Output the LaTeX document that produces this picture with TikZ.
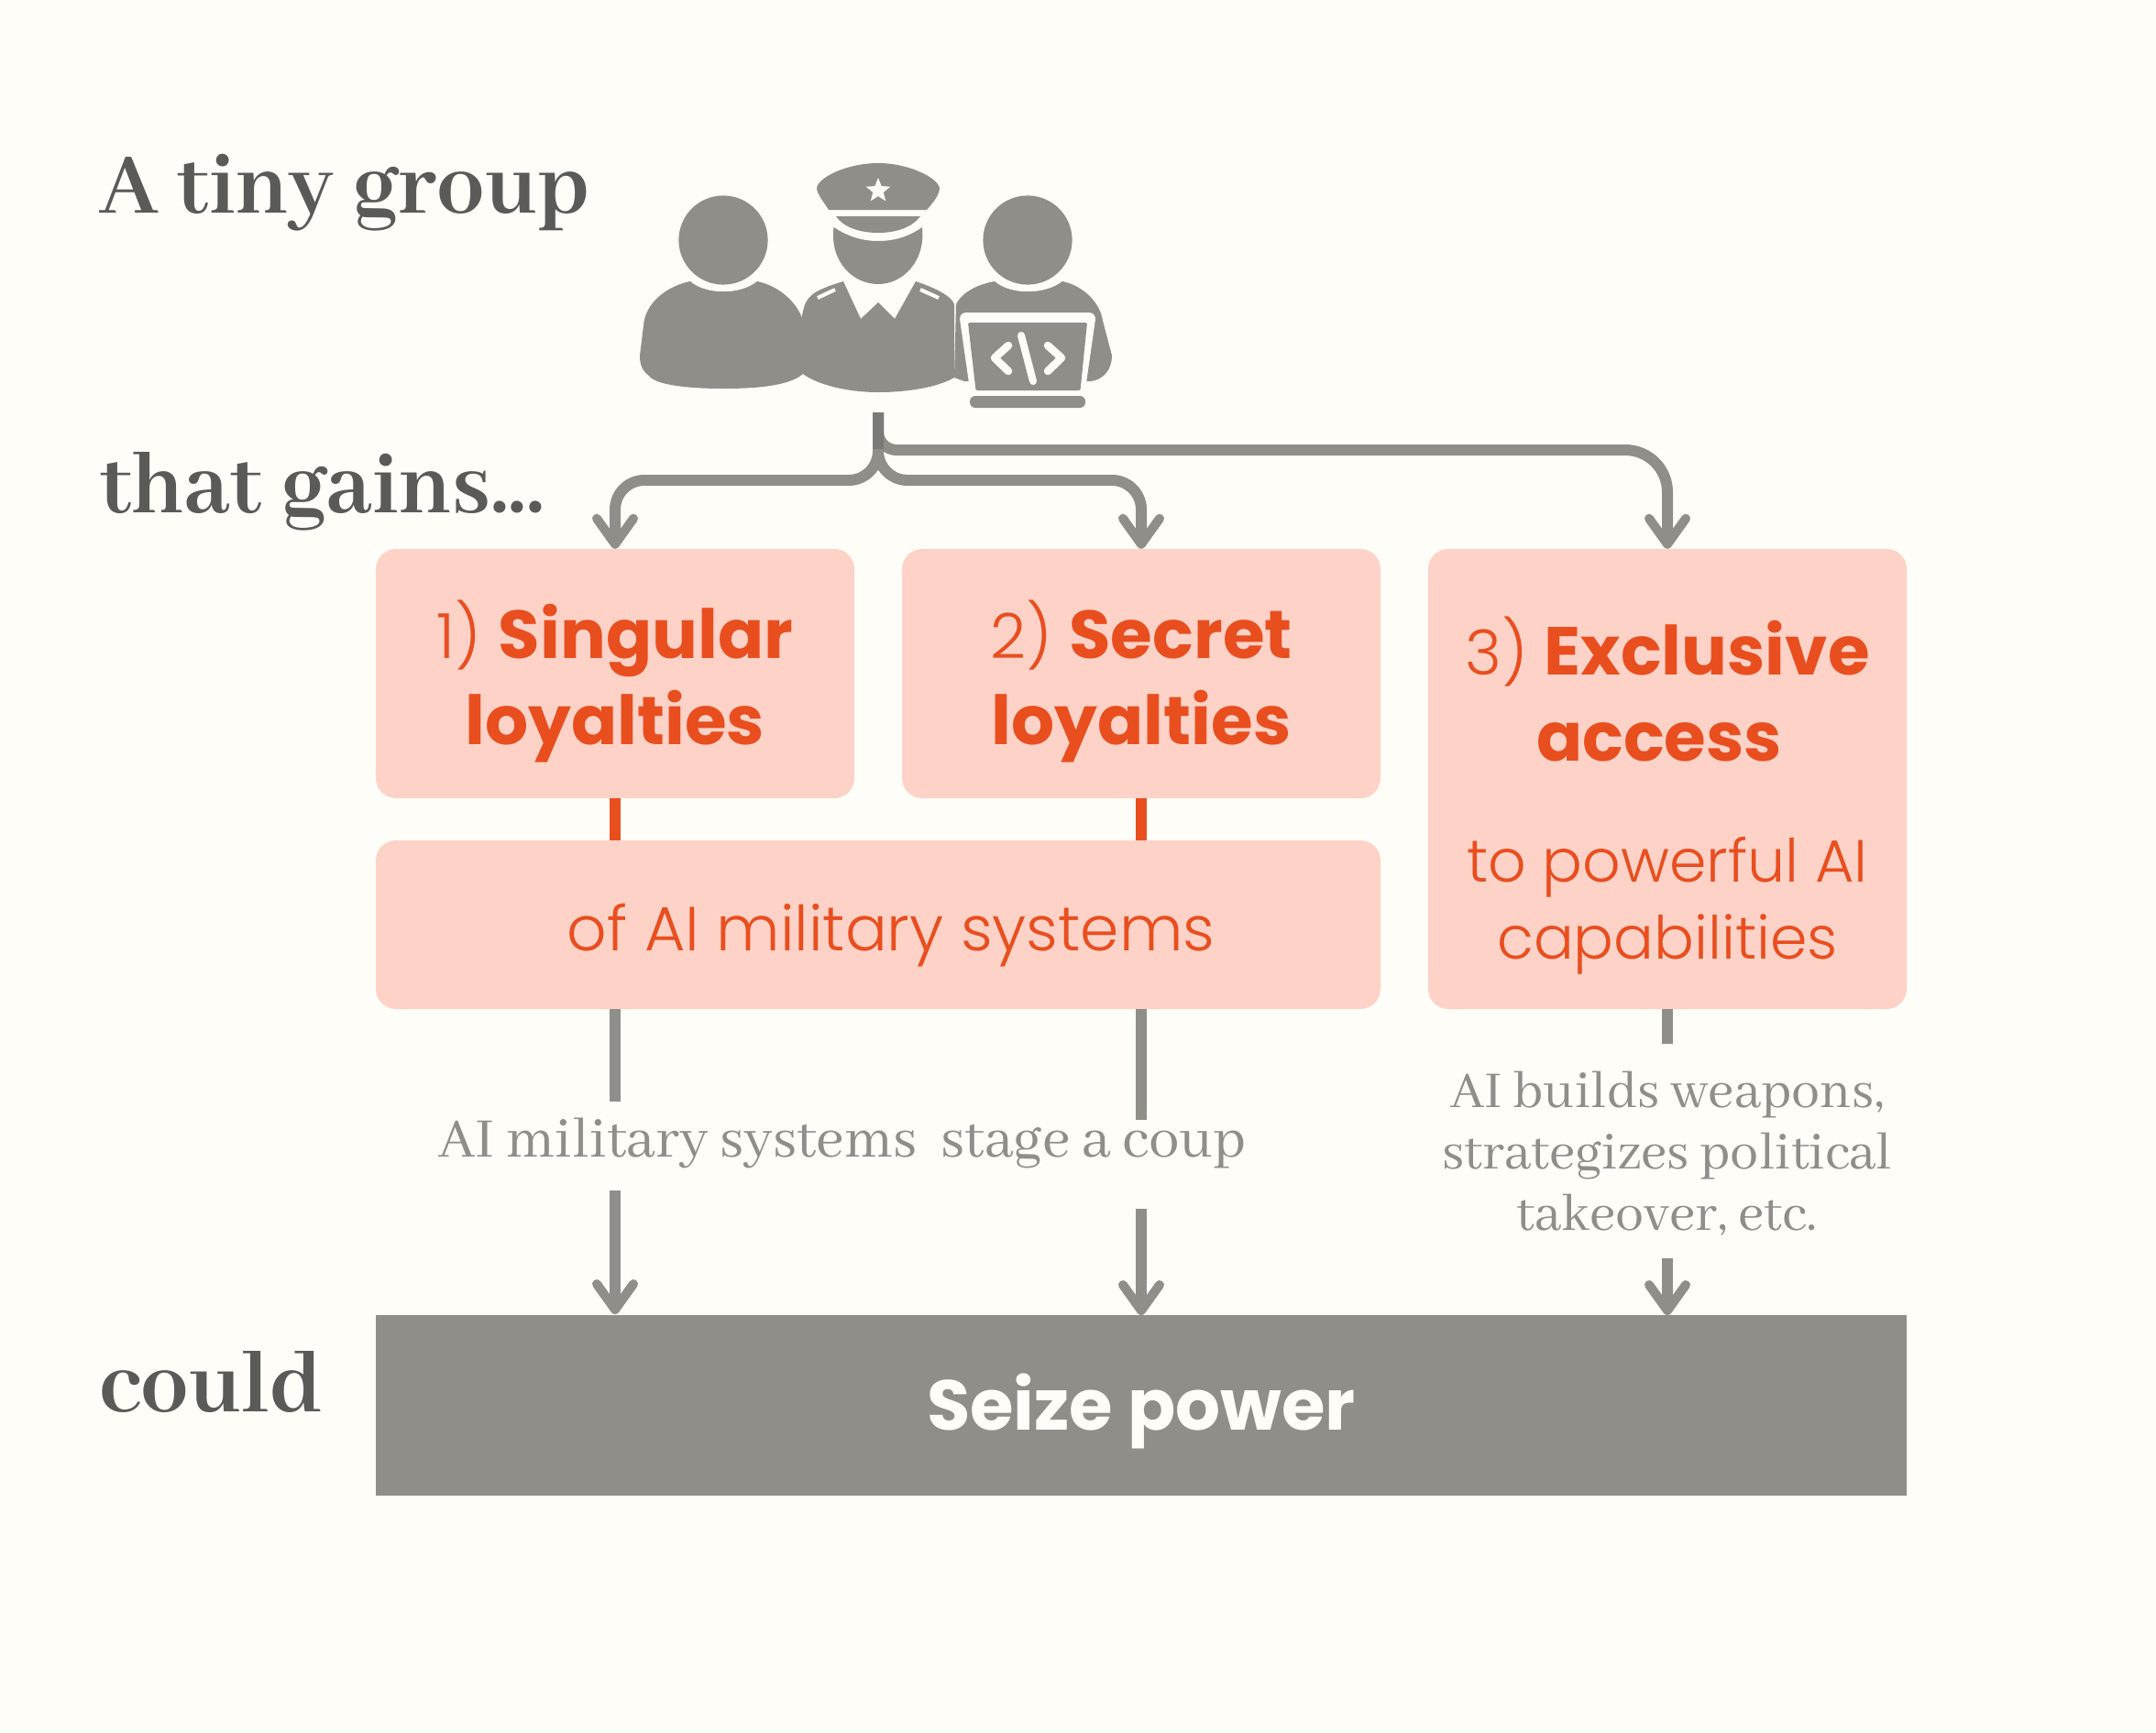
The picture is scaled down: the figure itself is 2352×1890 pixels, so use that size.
\documentclass[tikz,border=0pt]{standalone}
\usepackage{fontspec}
\usetikzlibrary{arrows.meta,shapes.geometric}
\setmainfont{Abhaya Libre}[BoldFont={Abhaya Libre Bold}]
\newfontfamily\sansf{Poppins}
\newfontfamily\sansl{Poppins Light}
\definecolor{paper}{HTML}{FEFDF8}
\definecolor{ink}{HTML}{5A5A56}
\definecolor{stone}{HTML}{8F8E89}
\definecolor{stonedark}{HTML}{7A7A76}
\definecolor{pinkbox}{HTML}{FFD2C7}
\definecolor{hot}{HTML}{E94E1F}
\tikzset{
  heading/.style={anchor=base west,inner sep=0pt,text=ink,font=\fontsize{104}{104}\selectfont\bfseries},
  pinkpanel/.style={fill=pinkbox,rounded corners=22pt,inner sep=0pt,align=center,text=hot,anchor=center,font=\sansl\fontsize{68}{94}\selectfont},
  note/.style={inner sep=0pt,text=stone,align=center,font=\fontsize{62}{67}\selectfont},
  conn/.style={draw=stone,line width=12pt},
  tip/.style={-{Straight Barb[length=28pt,width=40pt,line width=10pt,round]}},
  link/.style={draw=hot,line width=12pt},
  hole/.style={draw=paper,line cap=round,line join=round,fill=none},
}
\newcommand{\bh}[1]{{\sansf\bfseries\fontsize{74}{94}\selectfont #1}}
\begin{document}
\begin{tikzpicture}[x=1pt,y=-1pt]
\useasboundingbox[fill=paper] (0,0) rectangle (2352,1890);
% headings
\node[heading] (h1) at (108,232) {A tiny group};
\node[heading] (h2) at (108,559) {that gains...};
\node[heading] (h3) at (108,1540) {could};
% icon: left person
\fill[stone] (789,262) circle (48.6);
\fill[stone] (753,307) .. controls (770,322) and (808,322) .. (826,307)
  .. controls (850,312) and (870,330) .. (876,350) -- (876,408)
  .. controls (860,422) and (820,424) .. (789,424)
  .. controls (750,424) and (715,420) .. (708,410)
  .. controls (700,404) and (698,397) .. (698,388)
  -- (702,355) .. controls (704,330) and (728,312) .. (753,307) -- cycle;
% icon: officer
\fill[stone] (909.5,248) .. controls (925,258) and (940,263) .. (958,263)
  .. controls (976,263) and (992,258) .. (1006,248)
  .. controls (1010,285) and (985,310) .. (958,310)
  .. controls (930,310) and (905,285) .. (909.5,248) -- cycle;
\fill[stone] (891,205) .. controls (893,193) and (925,178) .. (958,178)
  .. controls (990,178) and (1022,193) .. (1025,205)
  .. controls (1025,213) and (1017,222) .. (1011,229) -- (904,229)
  .. controls (900,222) and (891,212) .. (891,205) -- cycle;
\fill[stone] (912,236) -- (1004,236) .. controls (995,248) and (978,254) .. (958,254)
  .. controls (938,254) and (920,248) .. (912,236) -- cycle;
\node[star,star points=5,star point ratio=2.3,fill=paper,minimum size=28pt,inner sep=0pt] (badge) at (958,208) {};
\fill[stone] (920,307) -- (939,348) -- (958,330) -- (976,348) -- (999,307)
  .. controls (1020,314) and (1038,323) .. (1041,332) -- (1041,412)
  .. controls (1020,424) and (985,428) .. (958,428)
  .. controls (925,428) and (892,420) .. (876,408)
  -- (875,345) .. controls (877,332) and (880,326) .. (888,320)
  .. controls (895,315) and (910,310) .. (920,307) -- cycle;
\draw[paper,line width=4pt] (892,325) -- (911,316);
\draw[paper,line width=4pt] (1004,316) -- (1024,325);
% icon: right person with laptop
\fill[stone] (1121,262) circle (48.6);
\fill[stone] (1043,332) .. controls (1050,318) and (1068,310) .. (1085,307)
  .. controls (1102,322) and (1140,322) .. (1159,307)
  .. controls (1182,312) and (1200,330) .. (1203,350)
  -- (1213,388) .. controls (1213,402) and (1205,414) .. (1190,416)
  -- (1052,416) -- (1041,412) -- cycle;
\fill[paper,rounded corners=8pt] (1046,341) -- (1196,341) -- (1183,432) -- (1059,432) -- cycle;
\fill[stone,rounded corners=1.5pt] (1056,352) -- (1186,352) -- (1178.5,426) -- (1064.5,426) -- cycle;
\fill[stone,rounded corners=6pt] (1058,432) -- (1184,432) -- (1184,445) -- (1058,445) -- cycle;
\draw[hole,line width=8.5pt] (1100,377) -- (1085,390.5) -- (1100,405);
\draw[hole,line width=8.5pt] (1143,377) -- (1158,390.5) -- (1143,405);
\draw[hole,line width=8pt] (1114,366) -- (1127,416);
% panels
\node[pinkpanel,minimum width=522pt,minimum height=272pt] (box1) at (671,735) {\rule{0pt}{80pt}1) \bh{Singular}\\\bh{loyalties}};
\node[pinkpanel,minimum width=522pt,minimum height=272pt] (box2) at (1245,735) {\rule{0pt}{80pt}2) \bh{Secret}\\\bh{loyalties}};
\node[pinkpanel,minimum width=522pt,minimum height=502pt,font=\sansl\fontsize{65}{84}\selectfont] (box3) at (1819,850) {\rule{0pt}{100pt}{\fontsize{68}{84}\selectfont 3)} \bh{Exclusive}\\[10pt]\mbox{\bh{access}\hspace{18pt}}\\[48pt]to powerful AI\\capabilities};
\node[pinkpanel,minimum width=1096pt,minimum height=184pt] (wide) at (958,1009) {\rule{0pt}{74pt}\hspace*{28pt}of AI military systems};
\node[fill=stone,minimum width=1670pt,minimum height=197pt,inner sep=0pt,text=paper,font=\sansf\bfseries\fontsize{77}{80}\selectfont] (seize) at (1245,1533) {\rule{0pt}{76pt}Seize power};
% notes
\node[note,anchor=base,font=\fontsize{67}{67}\selectfont] (note1) at (919,1262) {AI military systems\hspace{26pt}stage a coup};
\node[note,anchor=base] (note2) at (1819,1342) {AI builds weapons,\\strategizes political\\takeover, etc.};
% connector anchors
\coordinate (trunk) at (958,450);
\coordinate (railA) at (958,524);
\coordinate (railB) at (958,491);
\coordinate (s1a) at (671,1202);
\coordinate (s1b) at (671,1299);
\coordinate (s2a) at (1245,1222);
\coordinate (s2b) at (1245,1319);
\coordinate (s3a) at (1819,1139);
\coordinate (s3b) at (1819,1373);
\coordinate (e1) at (671,1434);
\coordinate (e2) at (1245,1435);
\coordinate (e3) at (1819,1435);
% top connectors
\draw[conn,tip,rounded corners=32pt] (trunk) -- (railA) -- (railA-|box1.north) -- (box1.north);
\draw[conn,tip,rounded corners=32pt] (trunk) -- (railA) -- (railA-|box2.north) -- (box2.north);
\draw[conn,tip] [rounded corners=20pt] (trunk) -- (railB) [rounded corners=46pt] -- (railB-|box3.north) -- (box3.north);
\draw[draw=stonedark,line width=12pt] (trunk) -- (958,490);
% orange links
\draw[link] (box1.south) -- (box1.south|-wide.north);
\draw[link] (box2.south) -- (box2.south|-wide.north);
% lower connectors
\draw[conn] (s1a|-wide.south) -- (s1a);
\draw[conn,tip] (s1b) -- (e1);
\draw[conn] (s2a|-wide.south) -- (s2a);
\draw[conn,tip] (s2b) -- (e2);
\draw[conn] (box3.south) -- (s3a);
\draw[conn,tip] (s3b) -- (e3);
\end{tikzpicture}
\end{document}
